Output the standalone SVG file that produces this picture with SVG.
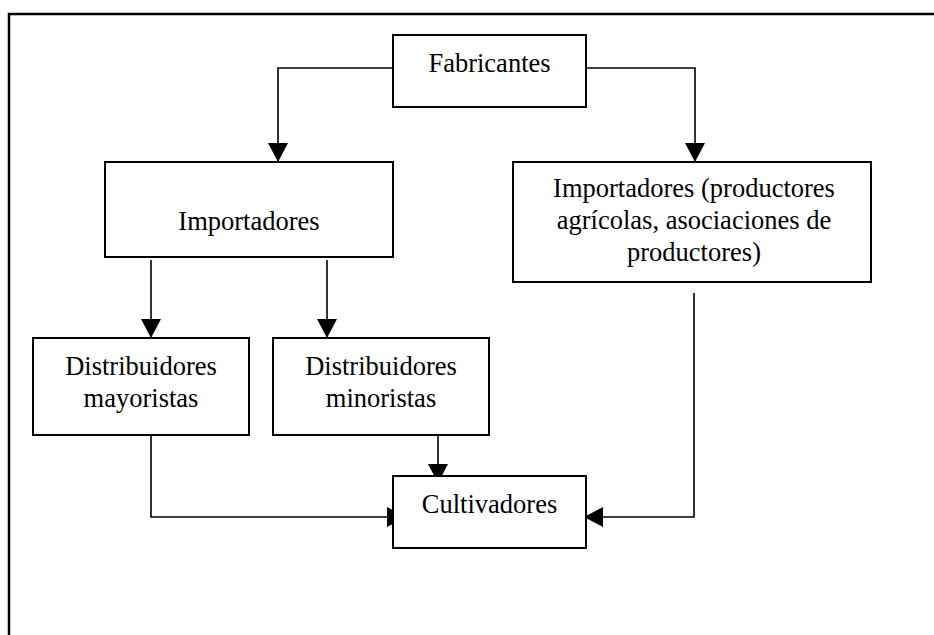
<svg xmlns="http://www.w3.org/2000/svg" width="934" height="635" viewBox="0 0 934 635">
  <style>
    .box { fill: #ffffff; stroke: #000000; stroke-width: 2; }
    .lbl { font-family: "Liberation Serif", "Times New Roman", serif; font-size: 26.5px; fill: #000000; text-anchor: middle; }
    .conn { fill: none; stroke: #000000; stroke-width: 1.6; marker-end: url(#arrow); }
    .line { fill: none; stroke: #000000; stroke-width: 1.6; }
    .frame { fill: none; stroke: #000000; stroke-width: 2.5; }
  </style>
  <defs>
    <marker id="arrow" markerUnits="userSpaceOnUse" markerWidth="20" markerHeight="20" viewBox="0 0 19 20" refX="19" refY="10" orient="auto">
      <path d="M0,0 L19,10 L0,20 Z" fill="#000000"/>
    </marker>
  </defs>
  <rect width="934" height="635" fill="#ffffff"/>
  <path class="frame" d="M9,640 L9,14 L940,14"/>

  <g id="connectors">
    <path class="conn" d="M393,68 L278,68 L278,162"/>
    <path class="conn" d="M584,68 L695,68 L695,162"/>
    <path class="conn" d="M151,260 L151,338"/>
    <path class="conn" d="M327,260 L327,338"/>
    <path class="conn" d="M151,435 L151,517 L406,517"/>
    <path class="conn" d="M438,435 L438,483"/>
    <path class="conn" d="M694,293 L694,517 L584,517"/>
  </g>

  <g id="fabricantes">
    <rect class="box" x="393" y="35" width="193" height="72"/>
    <text class="lbl" x="489.5" y="72">Fabricantes</text>
  </g>
  <g id="importadores">
    <rect class="box" x="105" y="162" width="288" height="95"/>
    <text class="lbl" x="249" y="230">Importadores</text>
  </g>
  <g id="importadores-productores">
    <rect class="box" x="513" y="162" width="358" height="120"/>
    <text class="lbl" x="694" y="197">Importadores (productores</text>
    <text class="lbl" x="694" y="229">agrícolas, asociaciones de</text>
    <text class="lbl" x="694" y="261">productores)</text>
  </g>
  <g id="mayoristas">
    <rect class="box" x="33" y="338" width="216" height="97"/>
    <text class="lbl" x="141" y="375">Distribuidores</text>
    <text class="lbl" x="141" y="407">mayoristas</text>
  </g>
  <g id="minoristas">
    <rect class="box" x="273" y="338" width="216" height="97"/>
    <text class="lbl" x="381" y="375">Distribuidores</text>
    <text class="lbl" x="381" y="407">minoristas</text>
  </g>
  <g id="cultivadores">
    <rect class="box" x="393" y="476" width="193" height="72"/>
    <text class="lbl" x="489.5" y="513">Cultivadores</text>
  </g>
</svg>
